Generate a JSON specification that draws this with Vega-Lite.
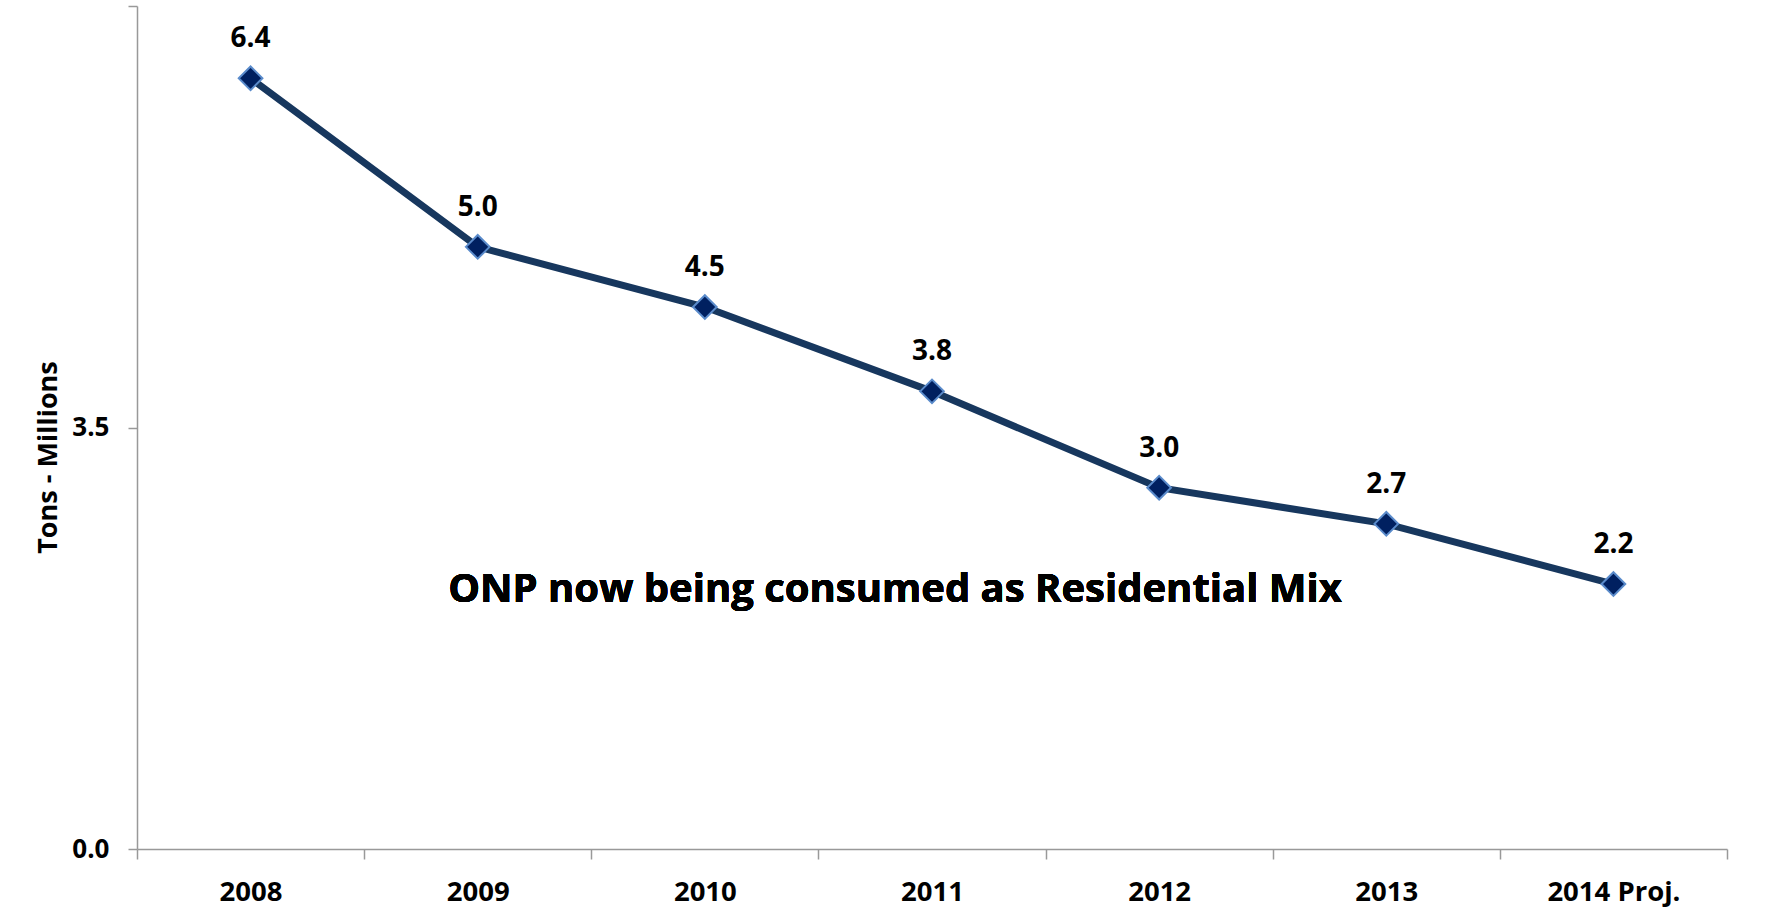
{
  "$schema": "https://vega.github.io/schema/vega-lite/v6.json",
  "autosize": "none",
  "width": 1590,
  "height": 843,
  "padding": {"left": 137, "top": 6, "right": 52, "bottom": 63},
  "background": "white",
  "config": {
    "view": {"stroke": null},
    "font": "Open Sans",
    "axis": {"grid": false}
  },
  "data": {
    "values": [
      {"year": "2008", "tons": 6.4, "label": "6.4"},
      {"year": "2009", "tons": 5.0, "label": "5.0"},
      {"year": "2010", "tons": 4.5, "label": "4.5"},
      {"year": "2011", "tons": 3.8, "label": "3.8"},
      {"year": "2012", "tons": 3.0, "label": "3.0"},
      {"year": "2013", "tons": 2.7, "label": "2.7"},
      {"year": "2014 Proj.", "tons": 2.2, "label": "2.2"}
    ]
  },
  "encoding": {
    "x": {
      "field": "year",
      "type": "nominal",
      "sort": null,
      "bandPosition": 0.5,
      "scale": {"type": "band", "paddingInner": 0, "paddingOuter": 0},
      "axis": {
        "title": null,
        "labelAngle": 0,
        "labelFont": "Open Sans",
        "labelFontSize": 27.5,
        "labelFontWeight": "bold",
        "labelColor": "#000000",
        "labelPadding": 19,
        "tickBand": "extent",
        "tickSize": 10,
        "tickColor": "#999999",
        "tickWidth": 1.5,
        "domainColor": "#999999",
        "domainWidth": 1.5
      }
    },
    "y": {
      "field": "tons",
      "type": "quantitative",
      "scale": {"domain": [0, 7], "nice": false, "zero": true},
      "axis": {
        "title": "Tons - Millions",
        "titleFont": "Open Sans",
        "titleFontSize": 27,
        "titleFontWeight": "bold",
        "titleColor": "#000000",
        "titlePadding": 9,
        "titleY": 451,
        "values": [0, 3.5, 7],
        "labelExpr": "datum.value == 7 ? '' : format(datum.value, '.1f')",
        "labelFont": "Open Sans",
        "labelFontSize": 26,
        "labelFontWeight": "bold",
        "labelColor": "#000000",
        "labelPadding": 19,
        "tickSize": 9,
        "tickColor": "#999999",
        "tickWidth": 1.5,
        "domainColor": "#999999",
        "domainWidth": 1.5
      }
    }
  },
  "layer": [
    {
      "mark": {"type": "line", "color": "#17375E", "strokeWidth": 7},
      "encoding": {}
    },
    {
      "mark": {
        "type": "point",
        "shape": "diamond",
        "size": 560,
        "filled": true,
        "fill": "#002060",
        "stroke": "#5A8BCB",
        "strokeWidth": 2,
        "opacity": 1
      },
      "encoding": {}
    },
    {
      "mark": {
        "type": "text",
        "font": "Open Sans",
        "fontSize": 28,
        "fontWeight": "bold",
        "color": "#000000",
        "baseline": "alphabetic",
        "align": "center",
        "dy": -31
      },
      "encoding": {"text": {"field": "label"}}
    },
    {
      "mark": {
        "type": "text",
        "font": "Open Sans",
        "fontSize": 40,
        "fontWeight": "bold",
        "color": "#000000",
        "baseline": "alphabetic",
        "align": "center",
        "dx": -37
      },
      "encoding": {
        "x": {"datum": "2011", "type": "nominal", "bandPosition": 0.5},
        "y": {"datum": 2.05, "type": "quantitative"},
        "text": {"value": "ONP now being consumed as Residential Mix"}
      }
    }
  ]
}
